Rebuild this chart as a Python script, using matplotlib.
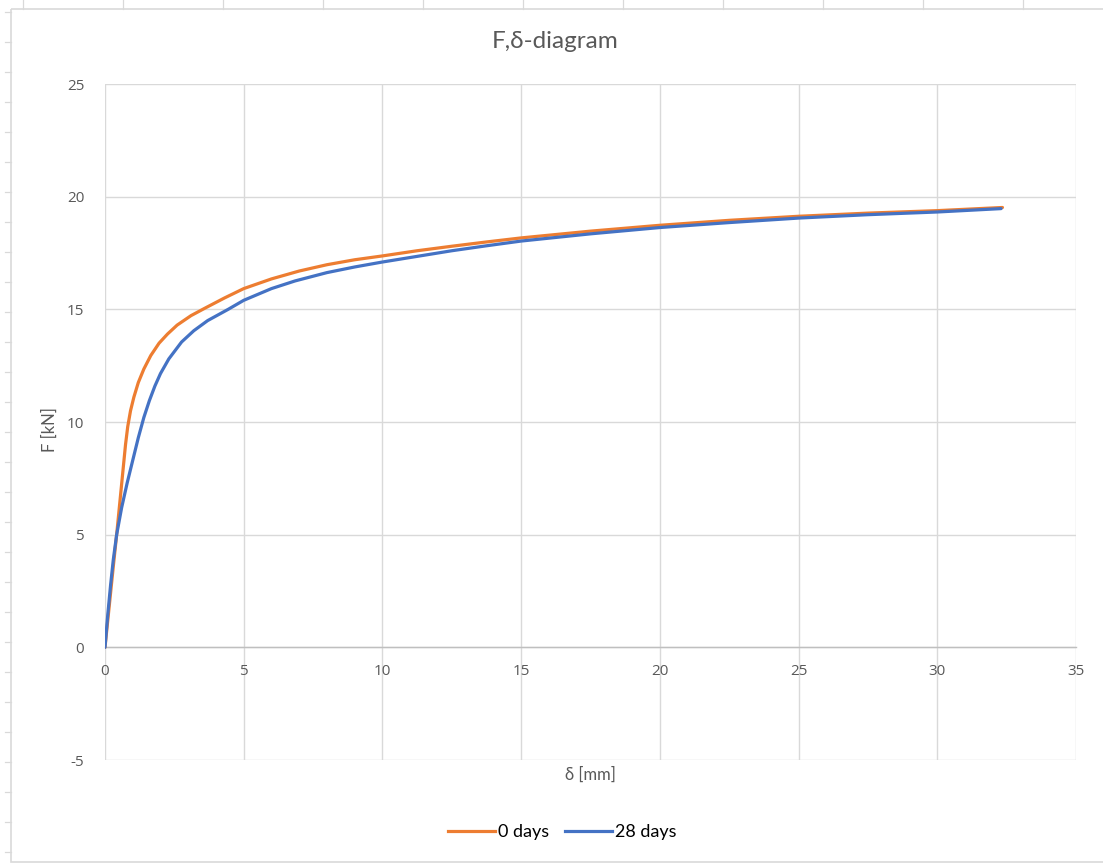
import matplotlib
matplotlib.use("Agg")
import matplotlib.pyplot as plt
from matplotlib.lines import Line2D
from matplotlib.patches import Rectangle

plt.rcParams["axes.unicode_minus"] = False

# Force-displacement readings
delta_0d = [0, 0.1, 0.2, 0.3, 0.42, 0.54, 0.66, 0.74, 0.82, 0.92, 1.04, 1.2,
            1.4, 1.65, 1.95, 2.25, 2.6, 3.1, 3.6, 4.3, 5.0, 6.0, 7.0, 8.0, 9.0,
            10, 11.25, 12.5, 13.75, 15, 17.5, 20, 22.5, 25, 27.5, 30, 32.35]
force_0d = [0, 1.2, 2.4, 3.6, 5.0, 6.5, 8.0, 9.0, 9.8, 10.5, 11.1, 11.75,
            12.35, 12.95, 13.5, 13.9, 14.3, 14.72, 15.05, 15.5, 15.92, 16.35,
            16.7, 16.98, 17.2, 17.37, 17.6, 17.8, 17.99, 18.17, 18.47, 18.73,
            18.95, 19.13, 19.27, 19.38, 19.52]

delta_28d = [0, 0.1, 0.2, 0.3, 0.42, 0.6, 0.8, 1.0, 1.2, 1.4, 1.6, 1.8, 2.0,
             2.3, 2.76, 3.2, 3.7, 4.44, 5.0, 6.0, 6.85, 8.0, 9.0, 10, 11.25,
             12.5, 13.75, 15, 17.5, 20, 22.5, 25, 27.5, 30, 32.3]
force_28d = [0, 1.45, 2.75, 3.9, 5.0, 6.2, 7.3, 8.3, 9.3, 10.2, 10.95, 11.6,
             12.15, 12.8, 13.55, 14.05, 14.5, 15.0, 15.40, 15.92, 16.26, 16.63,
             16.88, 17.10, 17.35, 17.6, 17.82, 18.03, 18.35, 18.63, 18.85,
             19.05, 19.2, 19.32, 19.47]

series_labels = ["0 days", "28 days"]
series_colors = ["#ED7D31", "#4472C4"]
x_ticks = [0, 5, 10, 15, 20, 25, 30, 35]
y_ticks = [-5, 0, 5, 10, 15, 20, 25]

TEXT = "#595959"
GRID = "#D9D9D9"
W, H = 1103, 864

fig = plt.figure(figsize=(W / 100, H / 100), dpi=100)
fig.patch.set_facecolor("white")

# chart frame with faint sheet ruler marks
frame = fig.add_axes([0, 0, 1, 1], zorder=-1)
frame.set_xlim(0, W)
frame.set_ylim(H, 0)
frame.axis("off")
frame.add_patch(Rectangle((11, 9), W + 20, 853, fill=False, edgecolor=GRID, lw=1.2))
for yy in range(12, 862, 30):
    frame.plot([5, 11], [yy, yy], color=GRID, lw=0.9)
for xx in [23] + list(range(123, W, 100)):
    frame.plot([xx, xx], [0, 9], color=GRID, lw=0.9)

ax = fig.add_axes([105 / W, 1 - 760 / H, 971 / W, 676 / H])
ax.set_xlim(0, 35)
ax.set_ylim(-5, 25)
ax.set_xticks(x_ticks)
ax.set_yticks(y_ticks)
ax.grid(True, color=GRID, lw=1.0)
ax.set_axisbelow(True)
for s in ["top", "right", "left"]:
    ax.spines[s].set_visible(False)
ax.spines["bottom"].set_position(("data", 0))
ax.spines["bottom"].set_color("#BFBFBF")
ax.spines["bottom"].set_linewidth(1.0)
ax.tick_params(length=0, labelsize=11, labelcolor=TEXT)
ax.tick_params(axis="x", pad=12)
ax.tick_params(axis="y", pad=15)
for lab in ax.get_xticklabels() + ax.get_yticklabels():
    lab.set_family("Open Sans")

ax.plot(delta_0d, force_0d, color=series_colors[0], lw=2.3,
        solid_capstyle="round", solid_joinstyle="round", zorder=3)
ax.plot(delta_28d, force_28d, color=series_colors[1], lw=2.3,
        solid_capstyle="round", solid_joinstyle="round", zorder=4)

fig.text(555 / W, 1 - 42 / H, "F,\u03b4-diagram", ha="center", va="center",
         fontsize=17.5, color=TEXT, family="Lato")
fig.text(590 / W, 1 - 775 / H, "\u03b4 [mm]", ha="center", va="center",
         fontsize=12, color=TEXT, family="Lato")
fig.text(50 / W, 1 - 430 / H, "F [kN]", ha="center", va="center",
         fontsize=12, color=TEXT, family="Lato", rotation=90)

handles = [Line2D([], [], color=c, lw=2.3) for c in series_colors]
leg = fig.legend(handles, series_labels, loc="center", ncol=2,
                 bbox_to_anchor=(562 / W, 1 - 832 / H), frameon=False,
                 handlelength=2.6, handletextpad=0.15, columnspacing=0.9,
                 prop={"family": "Lato", "size": 13})
for t in leg.get_texts():
    t.set_color("black")

fig.savefig("out.png", dpi=100, facecolor="white")
